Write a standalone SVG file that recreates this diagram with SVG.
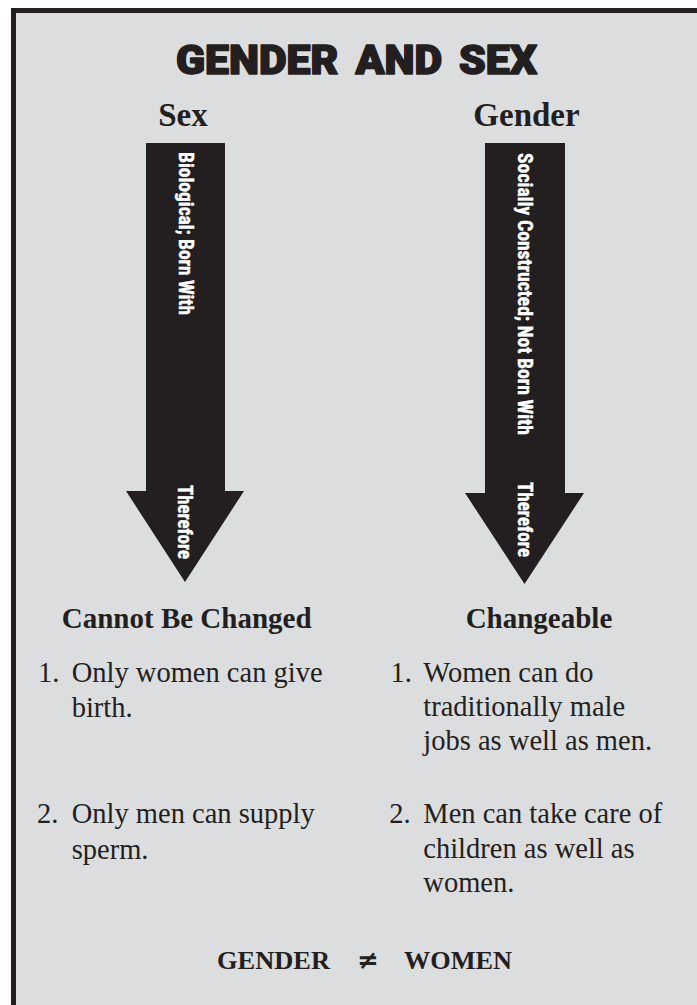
<svg xmlns="http://www.w3.org/2000/svg" width="697" height="1005" viewBox="0 0 697 1005">
<style>
.title{font-family:"Roboto","DejaVu Sans",sans-serif;font-weight:900;font-size:40px;fill:#231f20;stroke:#231f20;stroke-width:1.6px;stroke-linejoin:round;word-spacing:6px}
.head{font-family:"Liberation Serif","Times New Roman",serif;font-weight:bold;font-size:33px;fill:#231f20;text-anchor:middle}
.res{font-family:"Liberation Serif","Times New Roman",serif;font-weight:bold;font-size:29px;fill:#231f20;text-anchor:middle}
.item{font-family:"Liberation Serif","Times New Roman",serif;font-size:28.5px;fill:#231f20}
.foot{font-family:"Liberation Serif","Times New Roman",serif;font-weight:bold;font-size:26px;fill:#231f20}
.neq{font-family:"DejaVu Sans",sans-serif;font-weight:bold;font-size:26px;fill:#231f20}
.arrow{fill:#231f20}
.alab{font-family:"Liberation Sans Narrow","Roboto Condensed","Liberation Sans",sans-serif;font-weight:bold;font-size:19.5px;fill:#ffffff;stroke:#ffffff;stroke-width:0.4px}
</style>
<rect x="0" y="0" width="697" height="1005" fill="#ffffff"/>
<rect x="13.5" y="10.5" width="700" height="1010" fill="#dcdddf" stroke="#231f20" stroke-width="5"/>

<g id="title">
<text class="title" x="176" y="74" textLength="361" lengthAdjust="spacingAndGlyphs">GENDER AND SEX</text>
</g>

<g id="sex-header">
<text class="head" x="183" y="126">Sex</text>
</g>
<g id="gender-header">
<text class="head" x="526.5" y="126">Gender</text>
</g>

<g id="connectors">
<g id="sex-arrow">
<polygon class="arrow" points="146,143 225,143 225,491 244,491 185,582 126,491 146,491"/>
<text class="alab" transform="translate(179,152) rotate(90)" x="0" y="0" textLength="163" lengthAdjust="spacingAndGlyphs">Biological; Born With</text>
<text class="alab" transform="translate(178,485) rotate(90)" x="0" y="0" textLength="74" lengthAdjust="spacingAndGlyphs">Therefore</text>
</g>
<g id="gender-arrow">
<polygon class="arrow" points="485,143 565,143 565,493 584,493 524.5,584 465,493 485,493"/>
<text class="alab" transform="translate(518,153) rotate(90)" x="0" y="0" textLength="282" lengthAdjust="spacingAndGlyphs">Socially Constructed; Not Born With</text>
<text class="alab" transform="translate(517.5,482) rotate(90)" x="0" y="0" textLength="75" lengthAdjust="spacingAndGlyphs">Therefore</text>
</g>
</g>

<g id="sex-result">
<text class="res" x="186.7" y="628">Cannot Be Changed</text>
</g>
<g id="gender-result">
<text class="res" x="539" y="628">Changeable</text>
</g>

<g id="sex-list">
<text class="item" x="38" y="682">1.</text>
<text class="item" x="71.7" y="682">Only women can give</text>
<text class="item" x="71.7" y="717">birth.</text>
<text class="item" x="37" y="823">2.</text>
<text class="item" x="71.7" y="823">Only men can supply</text>
<text class="item" x="71.7" y="859">sperm.</text>
</g>

<g id="gender-list">
<text class="item" x="390.5" y="682">1.</text>
<text class="item" x="423.3" y="682">Women can do</text>
<text class="item" x="423.3" y="716">traditionally male</text>
<text class="item" x="423.3" y="750">jobs as well as men.</text>
<text class="item" x="389.3" y="823">2.</text>
<text class="item" x="423.3" y="823">Men can take care of</text>
<text class="item" x="423.3" y="858">children as well as</text>
<text class="item" x="423.3" y="892">women.</text>
</g>

<g id="footer">
<text class="foot" y="969"><tspan x="217" textLength="113" lengthAdjust="spacingAndGlyphs">GENDER</tspan><tspan class="neq" x="357">≠</tspan><tspan x="404" textLength="108" lengthAdjust="spacingAndGlyphs">WOMEN</tspan></text>
</g>
</svg>
